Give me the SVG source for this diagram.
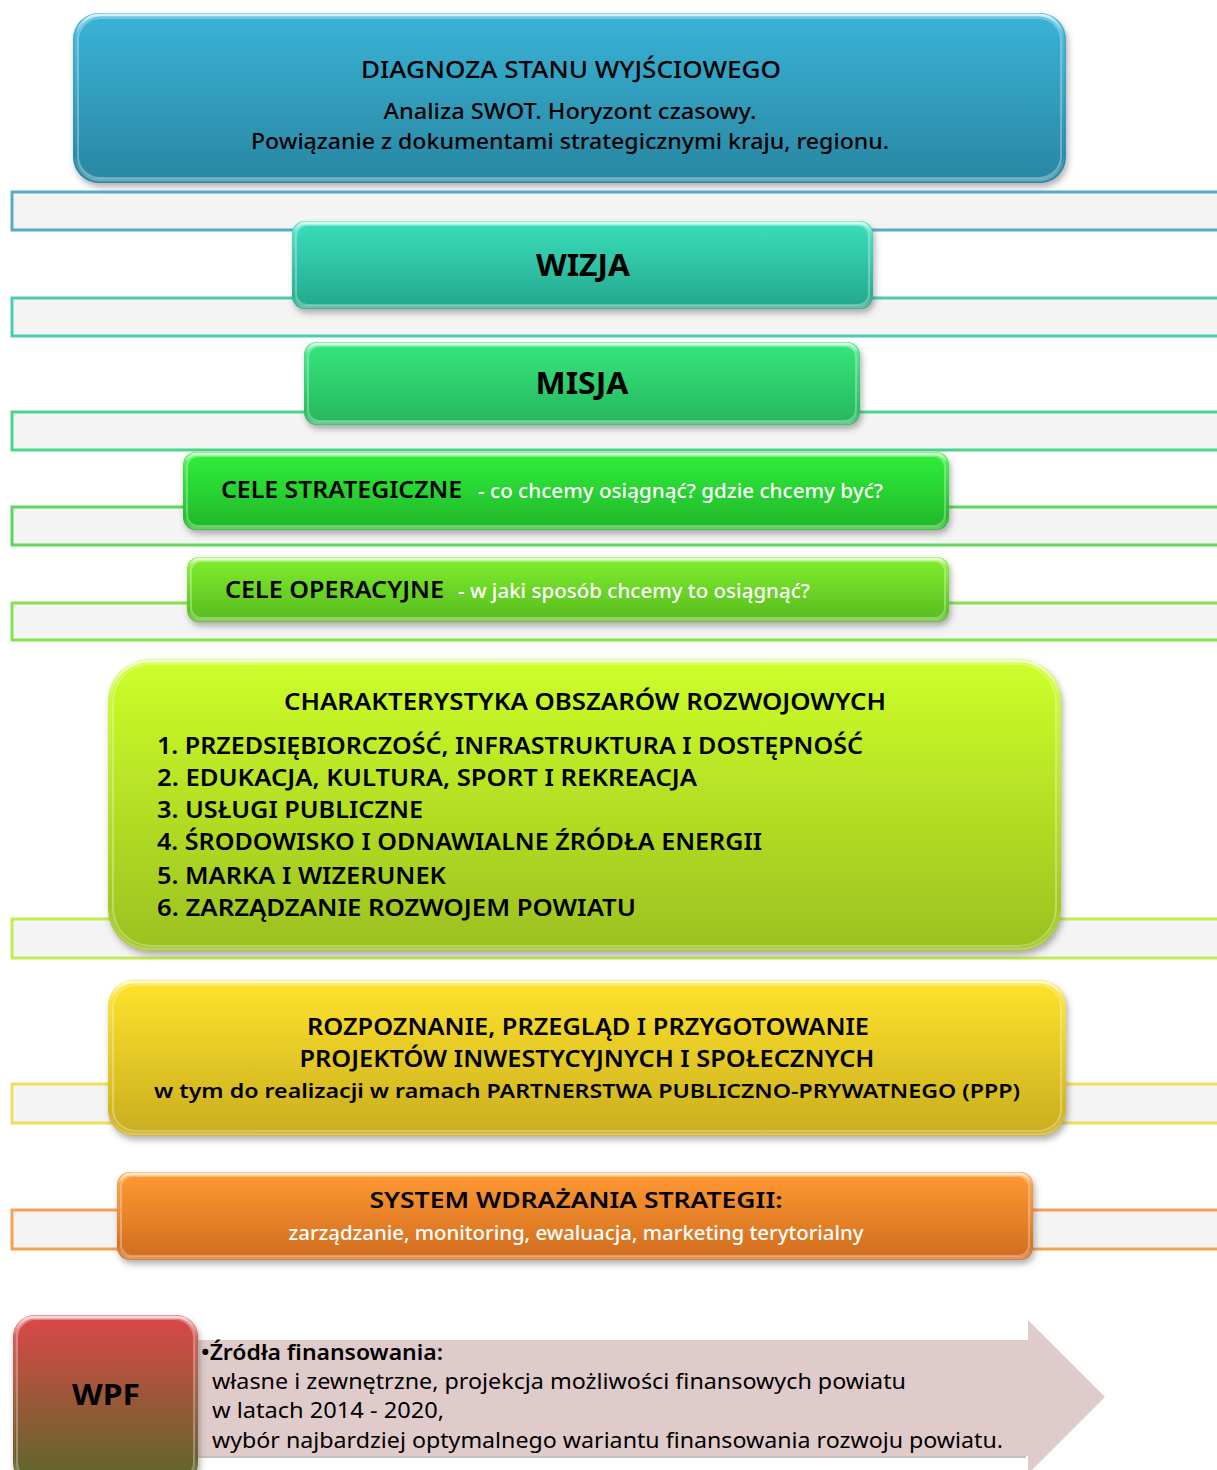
<svg xmlns="http://www.w3.org/2000/svg" width="1217" height="1470" viewBox="0 0 1217 1470">
  <defs>
    <style>
      text { font-family: "Noto Sans", "Open Sans", "Liberation Sans", sans-serif; fill: #000; }
      .h { font-weight: bold; }
      .m { font-weight: 500; }
      .w { fill: #ffffff; }
      .c { text-anchor: middle; }
      .band { fill: #f4f4f4; stroke-width: 3; }
      .rim { fill: none; stroke: #ffffff; stroke-opacity: 0.3; stroke-width: 2; }
      .gloss { fill: none; stroke: url(#gloss); stroke-width: 3; }
    </style>
    <filter id="shadow" x="-5%" y="-10%" width="110%" height="130%">
      <feDropShadow dx="2" dy="4" stdDeviation="3" flood-color="#555" flood-opacity="0.45"/>
    </filter>
    <linearGradient id="gloss" x1="0" y1="0" x2="0" y2="1">
      <stop offset="0" stop-color="#ffffff" stop-opacity="0.8"/>
      <stop offset="0.12" stop-color="#ffffff" stop-opacity="0.15"/>
      <stop offset="0.85" stop-color="#ffffff" stop-opacity="0"/>
      <stop offset="1" stop-color="#ffffff" stop-opacity="0.3"/>
    </linearGradient>
    <linearGradient id="bandFill" x1="0" y1="0" x2="0" y2="1">
      <stop offset="0" stop-color="#ffffff"/>
      <stop offset="0.3" stop-color="#f4f4f4"/>
      <stop offset="1" stop-color="#f4f4f4"/>
    </linearGradient>
    <linearGradient id="gBlue" x1="0" y1="0" x2="0" y2="1">
      <stop offset="0" stop-color="#39b3d6"/>
      <stop offset="1" stop-color="#2986a2"/>
    </linearGradient>
    <linearGradient id="gTeal" x1="0" y1="0" x2="0" y2="1">
      <stop offset="0" stop-color="#3adfbd"/>
      <stop offset="1" stop-color="#25a68c"/>
    </linearGradient>
    <linearGradient id="gMint" x1="0" y1="0" x2="0" y2="1">
      <stop offset="0" stop-color="#35e67c"/>
      <stop offset="1" stop-color="#27b65e"/>
    </linearGradient>
    <linearGradient id="gGreen" x1="0" y1="0" x2="0" y2="1">
      <stop offset="0" stop-color="#31f03b"/>
      <stop offset="1" stop-color="#21b629"/>
    </linearGradient>
    <linearGradient id="gLime" x1="0" y1="0" x2="0" y2="1">
      <stop offset="0" stop-color="#7ff02d"/>
      <stop offset="1" stop-color="#58ba20"/>
    </linearGradient>
    <linearGradient id="gYellowGreen" x1="0" y1="0" x2="0" y2="1">
      <stop offset="0" stop-color="#cdff2a"/>
      <stop offset="1" stop-color="#9cc01f"/>
    </linearGradient>
    <linearGradient id="gYellow" x1="0" y1="0" x2="0" y2="1">
      <stop offset="0" stop-color="#ffe32c"/>
      <stop offset="1" stop-color="#c9ad20"/>
    </linearGradient>
    <linearGradient id="gOrange" x1="0" y1="0" x2="0" y2="1">
      <stop offset="0" stop-color="#ff9a32"/>
      <stop offset="1" stop-color="#d06c20"/>
    </linearGradient>
    <linearGradient id="gWpf" x1="0" y1="0" x2="0" y2="1">
      <stop offset="0" stop-color="#dc4848"/>
      <stop offset="0.5" stop-color="#9a5838"/>
      <stop offset="1" stop-color="#58682a"/>
    </linearGradient>
  </defs>

  <!-- horizontal bands behind the stages -->
  <g id="bands">
    <rect class="band" x="12" y="192" width="1215" height="38" fill="url(#bandFill)" stroke="#5aaac6"/>
    <rect class="band" x="12" y="298" width="1215" height="38" fill="url(#bandFill)" stroke="#4bcdb1"/>
    <rect class="band" x="12" y="412" width="1215" height="38" fill="url(#bandFill)" stroke="#4ad589"/>
    <rect class="band" x="12" y="507" width="1215" height="38" fill="url(#bandFill)" stroke="#5cd85a"/>
    <rect class="band" x="12" y="603" width="1215" height="37" fill="url(#bandFill)" stroke="#84e24c"/>
    <rect class="band" x="12" y="919" width="1215" height="39" fill="url(#bandFill)" stroke="#c4ea54"/>
    <rect class="band" x="12" y="1084" width="1215" height="39" fill="url(#bandFill)" stroke="#f2de5a"/>
    <rect class="band" x="12" y="1210" width="1215" height="39" fill="url(#bandFill)" stroke="#f8a050"/>
  </g>

  <!-- stage: diagnosis -->
  <g id="diagnoza">
    <rect x="73" y="13" width="993" height="170" rx="26" fill="url(#gBlue)" filter="url(#shadow)"/>
    <rect class="gloss" x="76" y="15" width="987" height="165" rx="24"/>
    <rect class="rim" x="78" y="18" width="983" height="160" rx="22"/>
    <text class="c m" x="571" y="78" font-size="23" textLength="420" lengthAdjust="spacingAndGlyphs">DIAGNOZA STANU WYJŚCIOWEGO</text>
    <text class="c m" x="570" y="119" font-size="21" textLength="373" lengthAdjust="spacingAndGlyphs">Analiza SWOT. Horyzont czasowy.</text>
    <text class="c m" x="570" y="149" font-size="21" textLength="638" lengthAdjust="spacingAndGlyphs">Powiązanie z dokumentami strategicznymi kraju, regionu.</text>
  </g>

  <!-- stage: vision -->
  <g id="wizja">
    <rect x="292" y="221" width="581" height="88" rx="13" fill="url(#gTeal)" filter="url(#shadow)"/>
    <rect class="gloss" x="294" y="223" width="577" height="84" rx="12"/>
    <rect class="rim" x="296" y="225" width="573" height="80" rx="11"/>
    <text class="c h" x="583" y="276" font-size="31" textLength="94" lengthAdjust="spacingAndGlyphs">WIZJA</text>
  </g>

  <!-- stage: mission -->
  <g id="misja">
    <rect x="304" y="342" width="556" height="83" rx="13" fill="url(#gMint)" filter="url(#shadow)"/>
    <rect class="gloss" x="306" y="344" width="552" height="79" rx="12"/>
    <rect class="rim" x="308" y="346" width="548" height="75" rx="11"/>
    <text class="c h" x="582" y="394" font-size="31" textLength="93" lengthAdjust="spacingAndGlyphs">MISJA</text>
  </g>

  <!-- stage: strategic goals -->
  <g id="cele-strategiczne">
    <rect x="183" y="452" width="766" height="78" rx="13" fill="url(#gGreen)" filter="url(#shadow)"/>
    <rect class="gloss" x="185" y="454" width="762" height="74" rx="12"/>
    <rect class="rim" x="187" y="456" width="758" height="70" rx="11"/>
    <text x="221" y="498" font-size="24" font-weight="600" textLength="241" lengthAdjust="spacingAndGlyphs">CELE STRATEGICZNE</text>
    <text class="w m" x="478" y="498" font-size="19" textLength="405" lengthAdjust="spacingAndGlyphs">- co chcemy osiągnąć? gdzie chcemy być?</text>
  </g>

  <!-- stage: operational goals -->
  <g id="cele-operacyjne">
    <rect x="187" y="557" width="762" height="65" rx="12" fill="url(#gLime)" filter="url(#shadow)"/>
    <rect class="gloss" x="189" y="559" width="758" height="61" rx="11"/>
    <rect class="rim" x="191" y="561" width="754" height="57" rx="10"/>
    <text x="225" y="598" font-size="24" font-weight="600" textLength="219" lengthAdjust="spacingAndGlyphs">CELE OPERACYJNE</text>
    <text class="w m" x="458" y="598" font-size="19" textLength="352" lengthAdjust="spacingAndGlyphs">- w jaki sposób chcemy to osiągnąć?</text>
  </g>

  <!-- stage: development areas -->
  <g id="obszary-rozwojowe">
    <rect x="108" y="659" width="953" height="292" rx="42" fill="url(#gYellowGreen)" filter="url(#shadow)"/>
    <rect class="gloss" x="110" y="661" width="949" height="288" rx="40"/>
    <rect class="rim" x="113" y="664" width="943" height="282" rx="38"/>
    <text class="c" x="585" y="710" font-size="23" font-weight="600" textLength="602" lengthAdjust="spacingAndGlyphs">CHARAKTERYSTYKA OBSZARÓW ROZWOJOWYCH</text>
    <text x="157" y="754" font-size="23" font-weight="600" textLength="706" lengthAdjust="spacingAndGlyphs">1. PRZEDSIĘBIORCZOŚĆ, INFRASTRUKTURA I DOSTĘPNOŚĆ</text>
    <text x="157" y="786" font-size="23" font-weight="600" textLength="540" lengthAdjust="spacingAndGlyphs">2. EDUKACJA, KULTURA, SPORT I REKREACJA</text>
    <text x="157" y="818" font-size="23" font-weight="600" textLength="266" lengthAdjust="spacingAndGlyphs">3. USŁUGI  PUBLICZNE</text>
    <text x="157" y="850" font-size="23" font-weight="600" textLength="605" lengthAdjust="spacingAndGlyphs">4. ŚRODOWISKO I ODNAWIALNE ŹRÓDŁA ENERGII</text>
    <text x="157" y="884" font-size="23" font-weight="600" textLength="289" lengthAdjust="spacingAndGlyphs">5. MARKA I WIZERUNEK</text>
    <text x="157" y="916" font-size="23" font-weight="600" textLength="479" lengthAdjust="spacingAndGlyphs">6. ZARZĄDZANIE ROZWOJEM POWIATU</text>
  </g>

  <!-- stage: projects -->
  <g id="projekty">
    <rect x="108" y="980" width="958" height="156" rx="26" fill="url(#gYellow)" filter="url(#shadow)"/>
    <rect class="gloss" x="110" y="982" width="954" height="152" rx="24"/>
    <rect class="rim" x="113" y="985" width="948" height="146" rx="22"/>
    <text class="c" x="588" y="1035" font-size="23" font-weight="600" textLength="562" lengthAdjust="spacingAndGlyphs">ROZPOZNANIE, PRZEGLĄD I PRZYGOTOWANIE</text>
    <text class="c" x="587" y="1067" font-size="23" font-weight="600" textLength="575" lengthAdjust="spacingAndGlyphs">PROJEKTÓW INWESTYCYJNYCH I SPOŁECZNYCH</text>
    <text class="c" x="587" y="1098" font-size="20" font-weight="600" textLength="866" lengthAdjust="spacingAndGlyphs">w tym do realizacji w ramach PARTNERSTWA PUBLICZNO-PRYWATNEGO (PPP)</text>
  </g>

  <!-- stage: implementation system -->
  <g id="system-wdrazania">
    <rect x="117" y="1172" width="916" height="88" rx="13" fill="url(#gOrange)" filter="url(#shadow)"/>
    <rect class="gloss" x="119" y="1174" width="912" height="84" rx="12"/>
    <rect class="rim" x="121" y="1176" width="908" height="80" rx="11"/>
    <text class="c" x="576" y="1208" font-size="22" font-weight="600" textLength="413" lengthAdjust="spacingAndGlyphs">SYSTEM  WDRAŻANIA  STRATEGII:</text>
    <text class="c w m" x="576" y="1240" font-size="20" textLength="575" lengthAdjust="spacingAndGlyphs">zarządzanie, monitoring, ewaluacja, marketing terytorialny</text>
  </g>

  <!-- financing arrow -->
  <g id="zrodla-finansowania">
    <polygon points="190,1340 1028,1340 1028,1320 1105,1397 1028,1474 1028,1456 190,1456" fill="#e0cbcb"/>
    <line x1="198" y1="1457" x2="1026" y2="1457" stroke="#c8c0c0" stroke-width="2"/>
    <text x="201" y="1360" font-size="21" font-weight="600" textLength="242" lengthAdjust="spacingAndGlyphs">•Źródła finansowania:</text>
    <text x="212" y="1389" font-size="21" textLength="694" lengthAdjust="spacingAndGlyphs">własne i zewnętrzne, projekcja możliwości finansowych powiatu</text>
    <text x="212" y="1418" font-size="21" textLength="232" lengthAdjust="spacingAndGlyphs">w latach 2014 - 2020,</text>
    <text x="212" y="1448" font-size="21" textLength="791" lengthAdjust="spacingAndGlyphs">wybór najbardziej optymalnego wariantu finansowania rozwoju powiatu.</text>
  </g>

  <!-- WPF block -->
  <g id="wpf">
    <rect x="13" y="1315" width="185" height="170" rx="22" fill="url(#gWpf)" filter="url(#shadow)"/>
    <rect class="gloss" x="15" y="1317" width="181" height="166" rx="20"/>
    <rect class="rim" x="17" y="1319" width="177" height="162" rx="19"/>
    <text class="c h" x="106" y="1405" font-size="29" textLength="68" lengthAdjust="spacingAndGlyphs">WPF</text>
  </g>
</svg>
